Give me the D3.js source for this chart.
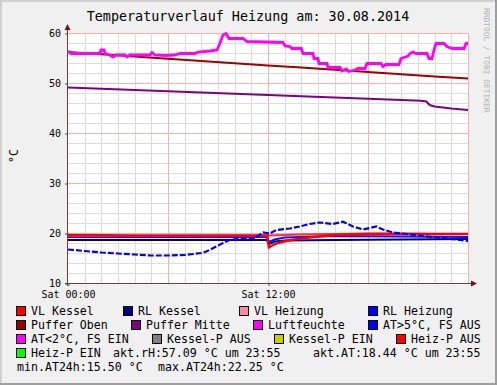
<!DOCTYPE html>
<html><head><meta charset="utf-8">
<script src="https://cdn.jsdelivr.net/npm/d3@7/dist/d3.min.js"></script>
<style>
body{margin:0;background:#f0f0f0}
svg{display:block}
text{font-family:"DejaVu Sans Mono",monospace}
</style></head>
<body><svg id="c" width="497" height="385"></svg>
<script>
// ---------- data ----------
const titleText = "Temperaturverlauf Heizung am: 30.08.2014";
const xTickHours = [0, 12];
const xTickLabels = ["Sat 00:00", "Sat 12:00"];
const yTicks = [10, 20, 30, 40, 50, 60];

const luftHours = [0,0.18,1.92,1.98,2.16,2.22,2.52,2.7,2.88,3.42,3.54,3.72,4.92,5.04,5.22,5.82,6.42,6.72,7.62,7.8,8.52,8.94,9.12,9.3,9.48,9.66,10.5,10.74,12.9,13.02,13.32,13.44,14.0,14.1,14.7,14.76,15.0,15.06,15.54,15.6,16.32,16.44,16.68,16.86,17.22,17.4,17.82,17.94,18.78,18.9,19.08,19.86,19.98,20.4,20.52,20.7,20.88,21.54,21.66,21.84,21.96,22.08,22.56,22.74,23.04,23.76,23.88,24];
const luftValues = [56.4,55.9,55.9,56.6,56.6,55.9,55.6,55.2,55.6,55.6,55.2,55.6,55.6,56.1,55.6,55.5,55.6,55.9,55.9,56.2,56.4,56.6,58.0,59.6,59.9,58.9,58.9,58.3,58.1,57.4,57.3,56.9,56.9,55.9,55.9,54.9,54.9,53.9,53.9,53.1,53.1,52.4,52.8,52.3,52.6,52.9,52.9,53.9,53.9,53.3,53.7,53.7,54.9,55.4,55.9,56.2,55.9,55.9,54.9,54.9,56.6,57.9,57.9,57.3,56.9,56.9,57.9,57.9];

const pufferObenHours = [0,2,4,6,8,10,12,14,16,18,20,22,24];
const pufferObenValues = [56.2,55.75,55.3,54.85,54.4,53.95,53.5,53.1,52.65,52.2,51.75,51.3,50.9];

const pufferMitteHours = [0,2,4,6,8,10,12,14,16,18,20,21.2,21.5,21.7,22,23,24];
const pufferMitteValues = [49.1,48.85,48.6,48.35,48.1,47.85,47.6,47.35,47.1,46.85,46.6,46.45,46.3,45.6,45.3,44.9,44.6];

const vlKesselHours = [0,4,8,11.95,12.05,12.3,12.6,13.2,14,15,16,18,20,22,24];
const vlKesselValues = [19.6,19.5,19.5,19.5,17.1,17.6,18.0,18.5,18.9,19.3,19.6,19.8,19.8,19.8,19.8];

const vlHeizungHours = [0,6,12,14,16,18,20,22,24];
const vlHeizungValues = [19.4,19.4,19.5,19.7,19.8,19.9,19.9,19.8,19.8];

const rlKesselHours = [0,6,11.95,12.05,12.4,13,16,20,24];
const rlKesselValues = [18.6,18.6,18.6,17.8,18.3,18.5,18.6,18.7,18.8];

const rlHeizungHours = [0,6,11.95,12.05,12.4,13,16,20,24];
const rlHeizungValues = [19.2,19.2,19.2,18.2,18.7,19.1,19.4,19.3,19.2];

const atHours = [0,1,2,3,4,5,6,7,7.5,8,8.3,8.6,8.9,9.3,9.7,10.3,11.2,11.7,12.1,12.5,13.3,13.9,14.5,15.1,15.9,16.5,17.1,17.7,18.5,18.9,19.5,20.3,21.3,22.1,23.3,24];
const atValues = [16.7,16.4,16.1,15.9,15.7,15.5,15.5,15.6,15.8,16.0,16.3,16.8,17.3,18.0,18.6,18.9,19.0,20.1,19.9,20.6,20.9,21.3,21.8,22.1,21.8,22.25,21.3,20.7,21.3,20.7,20.1,19.8,19.4,19.1,18.7,18.44];

const legendLabels = ["VL Kessel","RL Kessel","VL Heizung","RL Heizung","Puffer Oben","Puffer Mitte","Luftfeuchte","AT>5°C, FS AUS","AT<2°C, FS EIN","Kessel-P AUS","Kessel-P EIN","Heiz-P AUS","Heiz-P EIN"];
const legendColors = ["#FF0000","#000080","#FF88A8","#0000FF","#A00000","#800080","#FF00FF","#0000FF","#FF00FF","#808080","#CCCC00","#FF0000","#00FF00"];
const infoTexts = ["akt.rH:57.09 °C um 23:55","akt.AT:18.44 °C um 23:55","min.AT24h:15.50 °C","max.AT24h:22.25 °C"];
const watermark = "RRDTOOL / TOBI OETIKER";
const yLabel = "°C";

// ---------- drawing ----------
const svg = d3.select("#c");
const W = 497, H = 385;
const L = 68, R = 468, T = 33, B = 283;
const x = d3.scaleLinear().domain([0, 24]).range([L, R]);
const y = d3.scaleLinear().domain([10, 60]).range([B, T]);

svg.append("rect").attr("width", W).attr("height", H).attr("fill", "#f0f0f0");
// 3D frame
svg.append("rect").attr("x",0).attr("y",0).attr("width",W).attr("height",2).attr("fill","#cfcfcf");
svg.append("rect").attr("x",0).attr("y",0).attr("width",2).attr("height",H).attr("fill","#cfcfcf");
svg.append("rect").attr("x",0).attr("y",H-2).attr("width",W).attr("height",2).attr("fill","#9e9e9e");
svg.append("rect").attr("x",W-2).attr("y",0).attr("width",2).attr("height",H).attr("fill","#9e9e9e");

// canvas
svg.append("rect").attr("x", L).attr("y", T).attr("width", R - L).attr("height", B - T).attr("fill", "#fff");

const grid = svg.append("g").attr("shape-rendering", "crispEdges");
const px = v => Math.round(v) + 0.5;
// minor
d3.range(1, 24).filter(h => h % 6 !== 0).forEach(h => {
  grid.append("line").attr("x1", px(x(h))).attr("x2", px(x(h))).attr("y1", T).attr("y2", B).attr("stroke", "#dcdcdc");
});
d3.range(12, 60, 2).filter(v => v % 10 !== 0).forEach(v => {
  grid.append("line").attr("x1", L).attr("x2", R).attr("y1", px(y(v))).attr("y2", px(y(v))).attr("stroke", "#dcdcdc");
});
// major
[6, 12, 18, 24].forEach(h => {
  grid.append("line").attr("x1", px(x(h))).attr("x2", px(x(h))).attr("y1", T).attr("y2", B).attr("stroke", "#f5b0b0");
});
yTicks.filter(v => v > 10).forEach(v => {
  grid.append("line").attr("x1", L).attr("x2", R).attr("y1", px(y(v))).attr("y2", px(y(v))).attr("stroke", "#f5b0b0");
});

// series
const line = d3.line().x(d => x(d[0])).y(d => y(d[1]));
const zip = (a, b) => a.map((h, i) => [h, b[i]]);
function draw(hours, vals, color, w, dash) {
  const p = svg.append("path").attr("d", line(zip(hours, vals))).attr("fill", "none")
    .attr("stroke", color).attr("stroke-width", w).attr("stroke-linejoin", "miter");
  if (dash) p.attr("stroke-dasharray", dash);
}
draw(rlKesselHours, rlKesselValues, "#000080", 2.2);
draw(rlHeizungHours, rlHeizungValues, "#1010ff", 2);
draw(vlHeizungHours, vlHeizungValues, "#ff2a3a", 2);
draw(vlKesselHours, vlKesselValues, "#FF0000", 2.4);
draw(pufferObenHours, pufferObenValues, "#A00000", 2);
draw(pufferMitteHours, pufferMitteValues, "#800080", 2);
draw(luftHours, luftValues, "#FF00FF", 2.8);
draw(atHours, atValues, "#0000FF", 2.2, "6,2");

// axes
const axCol = "#7a3a3a";
const yAxis = d3.axisLeft(y).tickValues(yTicks).tickSize(3).tickPadding(4).tickFormat(d3.format("d"));
const gy = svg.append("g").attr("transform", `translate(${L},0)`).call(yAxis);
gy.select(".domain").remove();
gy.selectAll(".tick line").attr("stroke", axCol).attr("transform", "translate(0,0.5)");
gy.selectAll("text").attr("font-family", "DejaVu Sans Mono").attr("font-size", 10).attr("fill", "#000")
  .attr("x", -7).attr("dy", "0.35em");

const xAxis = d3.axisBottom(x).tickValues(xTickHours).tickSize(3).tickPadding(6)
  .tickFormat((d, i) => xTickLabels[i]);
const gx = svg.append("g").attr("transform", `translate(0,${B})`).call(xAxis);
gx.select(".domain").remove();
gx.selectAll(".tick line").attr("stroke", axCol).attr("transform", "translate(0.5,0)");
gx.selectAll("text").attr("font-family", "DejaVu Sans Mono").attr("font-size", 10).attr("fill", "#000")
  .attr("y", 0).attr("dy", 15);

// axis lines with arrows
svg.append("line").attr("x1", L - 0.5).attr("x2", L - 0.5).attr("y1", B + 3).attr("y2", T - 5).attr("stroke", axCol);
svg.append("line").attr("x1", L - 3).attr("x2", R + 6).attr("y1", B + 0.5).attr("y2", B + 0.5).attr("stroke", axCol);
svg.append("path").attr("d", `M${L-0.5},${T-9} L${L-3.5},${T-3} L${L+2.5},${T-3} Z`).attr("fill", "#7f1010");
svg.append("path").attr("d", `M${R+9},${B+0.5} L${R+3},${B-2.5} L${R+3},${B+3.5} Z`).attr("fill", "#7f1010");

// title
svg.append("text").attr("x", 248).attr("y", 21).attr("text-anchor", "middle").attr("font-size", 13.4).attr("fill", "#000").text(titleText);
// y label
svg.append("text").attr("transform", "translate(18,156) rotate(-90)").attr("text-anchor", "middle").attr("font-size", 11.6).attr("fill", "#000").text(yLabel);
// watermark
svg.append("text").attr("transform", "translate(484,8) rotate(90)").attr("font-size", 7.9).attr("fill", "#b0b0b0").text(watermark);

// legend
const legendPos = [
  [16,315],[123,315],[239,315],[368,315],
  [16,329],[131,329],[253,329],[368,329],
  [16,343],[152,343],[274,343],[396,343],
  [16,357]
];
const lg = svg.append("g");
legendLabels.forEach((lab, i) => {
  const [bx, by] = legendPos[i];
  lg.append("rect").attr("x", bx + 0.5).attr("y", by - 8.5).attr("width", 9).attr("height", 9)
    .attr("fill", legendColors[i]).attr("stroke", "#000").attr("stroke-width", 1).attr("shape-rendering", "crispEdges");
  lg.append("text").attr("x", bx + 15).attr("y", by).attr("font-size", 11.6).attr("fill", "#000").text(lab);
});
const infoPos = [[113,357],[313,357],[17,371],[158,371]];
infoTexts.forEach((t, i) => {
  lg.append("text").attr("x", infoPos[i][0]).attr("y", infoPos[i][1]).attr("font-size", 11.6).attr("fill", "#000").text(t);
});
</script>
</body></html>
